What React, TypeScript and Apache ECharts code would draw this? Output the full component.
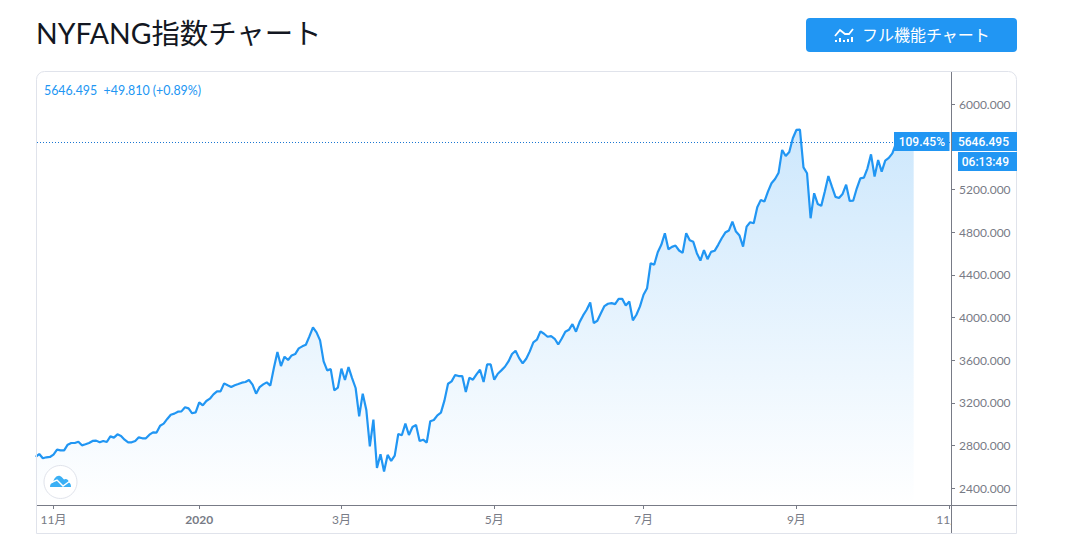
import React, { useEffect, useRef } from 'react';
import * as echarts from 'echarts';

// one value per trading day, the first one falls 5 sessions before 1 Nov 2019
const closes = [
  2694, 2722, 2682, 2691, 2694, 2716, 2763, 2756, 2756, 2809, 2825, 2825, 2837, 2803, 2813, 2825, 2844, 2847, 2831, 2844,
  2834, 2887, 2875, 2906, 2891, 2856, 2831, 2831, 2844, 2878, 2869, 2869, 2903, 2925, 2922, 2987, 3006, 3050, 3090, 3100,
  3118, 3121, 3159, 3149, 3103, 3112, 3206, 3177, 3218, 3240, 3280, 3308, 3308, 3383, 3365, 3349, 3365, 3377, 3390, 3396,
  3415, 3371, 3287, 3349, 3374, 3393, 3362, 3527, 3677, 3546, 3633, 3602, 3645, 3658, 3711, 3730, 3745, 3823, 3907, 3861,
  3786, 3589, 3505, 3517, 3318, 3343, 3521, 3415, 3536, 3433, 3340, 3075, 3287, 3137, 2794, 3043, 2591, 2719, 2557, 2713,
  2657, 2707, 2909, 2897, 3006, 2900, 2975, 2993, 2844, 2856, 2828, 3028, 3040, 3084, 3109, 3224, 3380, 3402, 3461, 3452,
  3452, 3302, 3436, 3418, 3468, 3511, 3396, 3561, 3561, 3418, 3474, 3505, 3539, 3589, 3658, 3689, 3620, 3570, 3614, 3683,
  3767, 3792, 3870, 3848, 3820, 3826, 3801, 3748, 3804, 3867, 3885, 3938, 3867, 3957, 4020, 4073, 4141, 3948, 3970, 4041,
  4107, 4129, 4135, 4126, 4175, 4175, 4113, 4150, 3973, 4026, 4104, 4213, 4275, 4509, 4494, 4612, 4681, 4790, 4640, 4662,
  4674, 4628, 4606, 4790, 4724, 4709, 4603, 4534, 4631, 4547, 4615, 4625, 4681, 4743, 4796, 4815, 4899, 4805, 4768, 4665,
  4852, 4893, 4883, 5033, 5102, 5086, 5180, 5258, 5298, 5357, 5570, 5513, 5551, 5679, 5757, 5760, 5407, 5351, 4930, 5164,
  5064, 5046, 5180, 5326, 5226, 5130, 5120, 5158, 5245, 5092, 5096, 5211, 5304, 5311, 5398, 5529, 5320, 5476, 5367, 5470,
  5495, 5538, 5630, 5640, 5625, 5635, 5640, 5646.495,
];
const firstSession = -5;

const monthSessions = [0, 41, 81, 124, 166, 209, 252];
const monthLabels = ['11月', '2020', '3月', '5月', '7月', '9月', '11月'];
const shownPrices = [2400, 2800, 3200, 3600, 4000, 4400, 4800, 5200, 6000];

const lastPrice = 5646.495;
const legendText = '5646.495  +49.810 (+0.89%)';
const titleText = 'NYFANG指数チャート';
const buttonText = 'フル機能チャート';

const BLUE = '#2196f3';
const AXIS = '#787b86';
const BORDER = '#e0e3eb';
const LATIN = 'Lato, "Noto Sans CJK JP", sans-serif';

const cloudPath =
  'M0 12 C0 9.5 1 8 3 7.5 C4 3 7 0 10 1 C12 1.5 13 4 14 4.5 C16 3 19 5 19 7.5 C20.5 8 21 10 21 12 Z';
echarts.graphic.registerShape('cloudLogo', echarts.graphic.extendPath(cloudPath, {}) as any);

function tag(x: number, y: number, w: number, h: number, text: string, textX: number) {
  return [
    { type: 'rect', z: 110, shape: { x, y, width: w, height: h }, style: { fill: BLUE } },
    {
      type: 'text',
      z: 111,
      x: textX,
      y: y + h / 2,
      style: {
        text,
        fill: '#fff',
        font: `500 12px Roboto, sans-serif`,
        textAlign: 'right',
        textVerticalAlign: 'middle',
      },
    },
  ];
}

export default function App() {
  const chartRef = useRef<HTMLDivElement>(null);

  useEffect(() => {
    if (!chartRef.current) return;
    const chart = echarts.init(chartRef.current, undefined, { renderer: 'svg' });

    const option: any = {
      animation: false,
      title: {
        text: titleText,
        left: 31,
        top: 14,
        textStyle: { fontSize: 28.4, fontWeight: 'normal', color: '#131722', fontFamily: LATIN },
      },
      grid: { left: 37, right: 133, top: 72, bottom: 30 },
      xAxis: {
        type: 'value',
        min: -4.64,
        max: 252.5,
        splitLine: { show: false },
        axisLine: { onZero: false, lineStyle: { color: AXIS } },
        axisTick: { customValues: monthSessions, length: 4, lineStyle: { color: AXIS } },
        axisLabel: {
          customValues: monthSessions,
          margin: 8,
          color: AXIS,
          fontSize: 12,
          fontFamily: LATIN,
          formatter: (v: number) => {
            const s = monthLabels[monthSessions.indexOf(v)];
            return s === '2020' ? `{b|${s}}` : s;
          },
          rich: { b: { fontWeight: 'bold', fontSize: 12, color: AXIS, fontFamily: LATIN } },
        },
      },
      yAxis: {
        type: 'value',
        position: 'right',
        min: 2244,
        max: 6300,
        splitLine: { show: false },
        axisLine: { show: true, onZero: false, lineStyle: { color: AXIS } },
        axisTick: { show: true, customValues: shownPrices, length: 4, lineStyle: { color: AXIS } },
        axisLabel: {
          customValues: shownPrices,
          margin: 8,
          color: AXIS,
          fontSize: 12,
          fontFamily: LATIN,
          formatter: (v: number) => v.toFixed(3),
        },
      },
      series: [
        {
          type: 'line',
          data: closes.map((v, i) => [i + firstSession, v]),
          symbol: 'none',
          smooth: false,
          lineStyle: { color: BLUE, width: 2.2 },
          itemStyle: { color: BLUE },
          areaStyle: {
            origin: 'start',
            color: new echarts.graphic.LinearGradient(0, 0, 0, 1, [
              { offset: 0, color: 'rgba(33,150,243,0.32)' },
              { offset: 1, color: 'rgba(33,150,243,0)' },
            ]),
          },
          markLine: {
            silent: true,
            symbol: 'none',
            label: { show: false },
            lineStyle: { color: '#1976d2', type: [1, 2], width: 1, opacity: 1 },
            data: [{ yAxis: lastPrice }],
          },
        },
      ],
      graphic: [
        // frame and the parts of the scales that run past the grid
        { type: 'rect', z: 100, shape: { x: 951.5, y: 506, width: 65, height: 27 }, style: { fill: '#fff' } },
        { type: 'rect', z: 100, shape: { x: 36.5, y: 71.5, width: 980, height: 462, r: [8, 8, 0, 0] }, style: { fill: 'none', stroke: BORDER, lineWidth: 1 } },
        { type: 'line', z: 101, shape: { x1: 951.5, y1: 72, x2: 951.5, y2: 533 }, style: { stroke: AXIS, lineWidth: 1 } },
        { type: 'line', z: 101, shape: { x1: 951, y1: 505.5, x2: 1017, y2: 505.5 }, style: { stroke: AXIS, lineWidth: 1 } },

        // legend
        { type: 'text', z: 105, x: 44, y: 90.5, style: { text: legendText, fill: BLUE, font: `12.4px ${LATIN}`, textVerticalAlign: 'middle' } },

        // price tags
        ...tag(894, 132, 55.5, 19, '109.45%', 945),
        ...tag(952, 132, 65, 19, '5646.495', 1009),
        ...tag(958, 152, 59, 19, '06:13:49', 1009),

        // button
        { type: 'rect', z: 100, shape: { x: 806, y: 18, width: 211, height: 34, r: 4 }, style: { fill: BLUE } },
        { type: 'text', z: 105, x: 862, y: 33.5, style: { text: buttonText, fill: '#fff', font: `16px "Noto Sans CJK JP", sans-serif`, textVerticalAlign: 'middle' } },
        { type: 'polyline', z: 105, shape: { points: [[835, 36], [840, 30], [845, 34], [849, 34], [853, 29]] }, style: { stroke: '#fff', fill: 'none', lineWidth: 1.8 } },
        { type: 'rect', z: 105, shape: { x: 835, y: 40, width: 2, height: 2 }, style: { fill: '#fff' } },
        { type: 'rect', z: 105, shape: { x: 839, y: 38, width: 2, height: 4 }, style: { fill: '#fff' } },
        { type: 'rect', z: 105, shape: { x: 843, y: 40, width: 2, height: 2 }, style: { fill: '#fff' } },
        { type: 'rect', z: 105, shape: { x: 847, y: 39, width: 2, height: 3 }, style: { fill: '#fff' } },
        { type: 'rect', z: 105, shape: { x: 851, y: 37, width: 2, height: 5 }, style: { fill: '#fff' } },

        // logo badge
        { type: 'circle', z: 100, shape: { cx: 60.5, cy: 482, r: 16.5 }, style: { fill: '#fff', stroke: BORDER, lineWidth: 1 } },
        { type: 'cloudLogo', z: 105, x: 50, y: 475, style: { fill: '#3bb0f5' } },
        { type: 'polyline', z: 106, shape: { points: [[50, 483], [57, 480], [63, 486], [70, 481]] }, style: { stroke: '#fff', fill: 'none', lineWidth: 1.4 } },
      ],
    };

    chart.setOption(option);

    return () => {
      chart.dispose();
    };
  }, []);

  return <div ref={chartRef} style={{ position: 'absolute', left: 0, top: 0, width: 1084, height: 535 }} />;
}
